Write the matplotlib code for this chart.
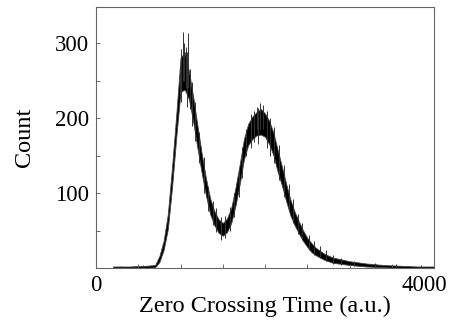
import matplotlib
matplotlib.use("Agg")
import matplotlib.pyplot as plt
import matplotlib.transforms as mtransforms

# zero crossing time bins (a.u.) and the envelope of the noisy count trace
time = [200, 400, 600, 700, 750, 800, 850, 900, 950, 1000, 1050, 1100, 1150,
        1200, 1250, 1300, 1350, 1400, 1450, 1500, 1550, 1600, 1650, 1700,
        1750, 1800, 1850, 1900, 1950, 2000, 2050, 2100, 2150, 2200, 2250,
        2300, 2350, 2400, 2450, 2500, 2550, 2600, 2700, 2800, 3000, 3200,
        3400, 3600, 3800, 4000]
count_low = [0, 0, 0, 1, 8, 24, 52, 108, 175, 235, 238, 225, 195,
             160, 127, 97, 72, 57, 47, 43, 48, 60, 83, 112,
             145, 164, 172, 177, 178, 175, 165, 150, 128, 110, 89,
             70, 57, 46, 36, 28, 21, 17, 11, 7, 4, 2,
             1, 0, 0, 0]
count_high = [2, 2, 3, 4, 16, 36, 72, 135, 205, 280, 288, 262, 228,
              190, 153, 120, 93, 76, 65, 60, 66, 80, 107, 138,
              172, 192, 202, 208, 212, 206, 196, 180, 157, 135, 112,
              91, 75, 62, 50, 40, 33, 27, 19, 14, 9, 6,
              4, 3, 2, 2]

# isolated spikes of the trace
spike_time = [1030, 1045, 1060, 1090, 1900, 1945, 1980,
              990, 1010, 1075, 1110, 1130, 1170, 1220, 1280, 1330, 1380,
              1420, 1480, 1530, 1580, 1630, 1690, 1730, 1780, 1830, 1870,
              1920, 2020, 2060, 2110, 2170, 2230, 2280, 2330, 2390, 2440,
              2520, 2580, 2650, 2720, 2800, 2900, 3050, 3300, 3550, 3850,
              300, 450, 560]
spike_low = [250, 250, 240, 240, 185, 185, 185,
             228, 222, 215, 212, 190, 170, 140, 100, 76, 58,
             48, 38, 40, 50, 68, 95, 120, 150, 160, 168,
             165, 160, 150, 140, 118, 95, 78, 60, 46, 38,
             24, 17, 13, 10, 6, 4, 3, 1, 0, 0,
             0, 0, 0]
spike_high = [315, 300, 295, 313, 215, 220, 217,
              270, 292, 288, 265, 248, 222, 182, 148, 108, 90,
              80, 68, 70, 82, 100, 130, 162, 185, 205, 210,
              214, 210, 200, 188, 164, 138, 112, 92, 72, 60,
              44, 36, 30, 24, 18, 14, 10, 7, 5, 4,
              3, 3, 4]

plt.rcParams['font.family'] = ['Liberation Serif', 'DejaVu Serif']

fig = plt.figure(figsize=(4.56, 3.2), dpi=100)
ax = fig.add_axes([0.2105, 0.1625, 0.7415, 0.8155])

ax.fill_between(time, count_low, count_high, color='black', linewidth=0.6,
                edgecolor='#444444')
ax.vlines(spike_time, spike_low, spike_high, color='#333333', linewidth=0.7)

ax.set_xlim(0, 4000)
ax.set_ylim(0, 348)
ax.set_xticks([0, 4000])
ax.set_xticks(range(500, 4000, 500), minor=True)
ax.set_yticks([100, 200, 300])
ax.set_yticks([50, 150, 250], minor=True)
ax.tick_params(which='both', direction='in', length=3, width=0.6,
               color='#555555', labelsize=16.5, pad=5)

# nudge the right-hand label inwards so it stays on the canvas
last = ax.get_xticklabels()[-1]
last.set_transform(last.get_transform() +
                   mtransforms.ScaledTranslation(-7 / 72, 0, fig.dpi_scale_trans))

for s in ax.spines.values():
    s.set_color('#666666')
    s.set_linewidth(0.8)

ax.set_xlabel('Zero Crossing Time (a.u.)', fontsize=17.5, labelpad=0)
ax.set_ylabel('Count', fontsize=17.5, labelpad=14)

fig.savefig('out.png', dpi=100)
